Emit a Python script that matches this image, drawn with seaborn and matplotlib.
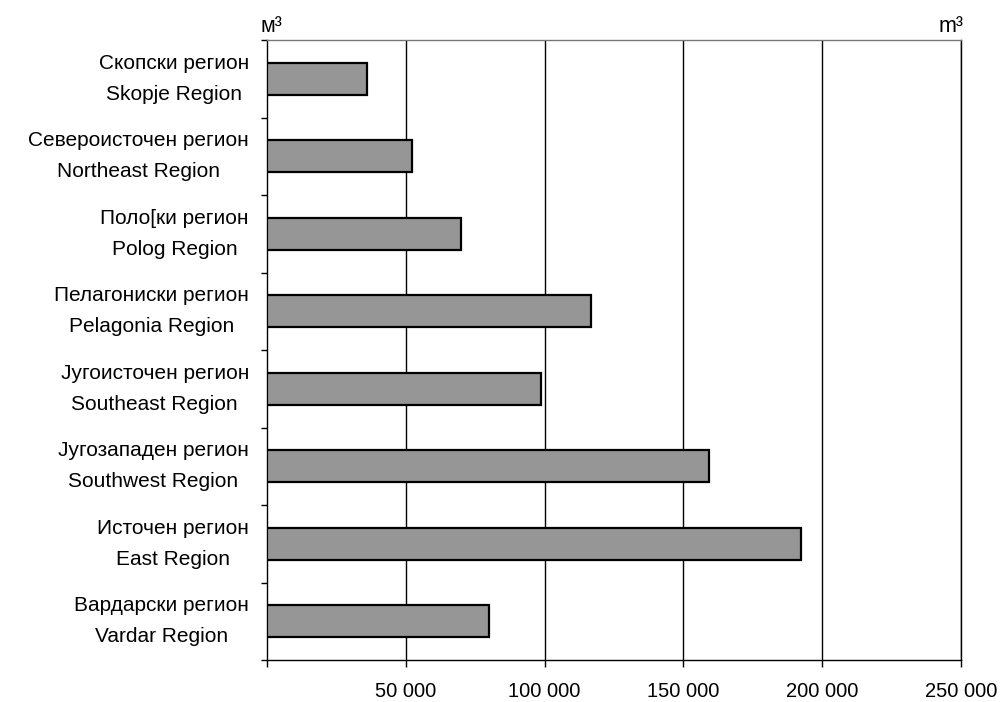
"""Horizontal bar chart of volumes by statistical region (m3)."""
import matplotlib
matplotlib.use("Agg")
import matplotlib.pyplot as plt
import pandas as pd
import seaborn as sns
from matplotlib.ticker import FixedLocator, FuncFormatter

# Data
regions_mk = ["Скопски регион", "Североисточен регион", "Поло[ки регион",
              "Пелагониски регион", "Југоисточен регион", "Југозападен регион",
              "Источен регион", "Вардарски регион"]
regions_en = ["Skopje Region", "Northeast Region", "Polog Region",
              "Pelagonia Region", "Southeast Region", "Southwest Region",
              "East Region", "Vardar Region"]
volumes = [35900, 52400, 69800, 116700, 98600, 159100, 192300, 80000]
x_ticks = [0, 50000, 100000, 150000, 200000, 250000]

labels = [f"{mk}\n{en}" for mk, en in zip(regions_mk, regions_en)]
df = pd.DataFrame({"region": labels, "volume": volumes})

sns.set_style("white")
plt.rcParams["font.family"] = ["Liberation Sans", "DejaVu Sans"]
plt.rcParams["text.color"] = "black"
plt.rcParams["xtick.color"] = "black"
plt.rcParams["ytick.color"] = "black"

fig = plt.figure(figsize=(10.07, 7.02), dpi=100)
ax = fig.add_axes([267 / 1007, 1 - 660 / 702, (961 - 267) / 1007, (660 - 40) / 702])

sns.barplot(data=df, x="volume", y="region", orient="h", ax=ax,
            color="#969696", saturation=1, edgecolor="black",
            linewidth=1.6, width=0.41, zorder=3)

ax.set_xlim(0, 250000)
ax.set_ylim(len(labels) - 0.5, -0.5)

# vertical grid lines
for v in x_ticks[1:]:
    ax.axvline(v, color="black", linewidth=1, zorder=1)

ax.xaxis.set_major_locator(FixedLocator(x_ticks))
ax.xaxis.set_major_formatter(FuncFormatter(
    lambda v, p: "" if v == 0 else f"{int(v):,}".replace(",", " ")))
ax.tick_params(axis="x", direction="out", length=5, width=1, color="black",
               labelcolor="black", pad=11, labelsize=14.5, bottom=True)

# category labels centred, tick marks between categories
ax.set_yticks(range(len(labels)))
ax.set_yticklabels(labels, multialignment="center", linespacing=1.8, va="center")
ax.tick_params(axis="y", which="major", length=0, pad=13, labelsize=15,
               labelcolor="black")
ax.set_yticks([i - 0.5 for i in range(len(labels) + 1)], minor=True)
ax.tick_params(axis="y", which="minor", direction="out", length=4.5, width=1,
               color="black", left=True)

for side in ["top", "right", "bottom", "left"]:
    ax.spines[side].set_visible(True)
    ax.spines[side].set_color("black")
    ax.spines[side].set_linewidth(1)
ax.spines["top"].set_color("#777777")

ax.set_xlabel("")
ax.set_ylabel("")

ax.text(-6 / 694, 1 + 8 / 620, "м³", transform=ax.transAxes, ha="left",
        va="baseline", fontsize=15.5)
ax.text(1 + 2 / 694, 1 + 8 / 620, "m³", transform=ax.transAxes, ha="right",
        va="baseline", fontsize=15.5)

plt.savefig("out.png", dpi=100)
